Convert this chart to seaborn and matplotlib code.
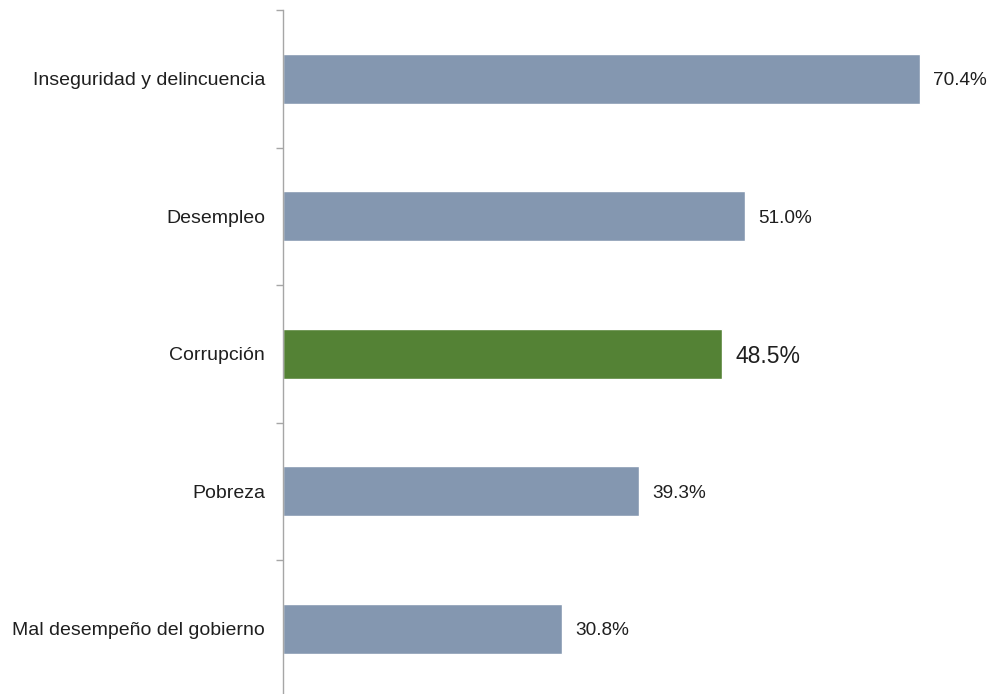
import matplotlib
matplotlib.use("Agg")
import matplotlib.pyplot as plt
import seaborn as sns
import pandas as pd

categorias = ["Inseguridad y delincuencia", "Desempleo", "Corrupción", "Pobreza",
              "Mal desempeño del gobierno"]
porcentajes = [70.4, 51.0, 48.5, 39.3, 30.8]
etiquetas = ["70.4%", "51.0%", "48.5%", "39.3%", "30.8%"]
destacado = "Corrupción"

AZUL = "#8497B0"
VERDE = "#548235"
TEXTO = "#1F1F1F"

sns.set_theme(style="white")
plt.rcParams["font.family"] = ["Liberation Sans", "DejaVu Sans"]

df = pd.DataFrame({"categoria": categorias, "valor": porcentajes})
colores = {c: (VERDE if c == destacado else AZUL) for c in categorias}

fig = plt.figure(figsize=(9.92, 6.94), dpi=100)
ax = fig.add_axes([283 / 992, 1 - 697.5 / 694, (988 - 283) / 992, 687.5 / 694])

sns.barplot(data=df, x="valor", y="categoria", hue="categoria", palette=colores,
            order=categorias, width=0.364, legend=False, ax=ax, saturation=1)

ax.set_xlim(0, 77.9)
ax.set_ylim(len(categorias) - 0.5, -0.5)
ax.set_xlabel("")
ax.set_ylabel("")
ax.set_xticks([])

# ticks sit on the category boundaries
ax.set_yticks([i - 0.5 for i in range(len(categorias) + 1)], minor=False)
ax.set_yticklabels([])
ax.tick_params(axis="y", which="major", direction="out", length=5, width=1,
               color="#A6A6A6", left=True)
for i, c in enumerate(categorias):
    ax.annotate(c, xy=(0, i), xytext=(-13, 0), textcoords="offset points",
                ha="right", va="center_baseline", fontsize=14, color=TEXTO)

for sp in ["top", "right", "bottom"]:
    ax.spines[sp].set_visible(False)
ax.spines["left"].set_color("#A6A6A6")
ax.spines["left"].set_linewidth(1)

for i, (v, lab, c) in enumerate(zip(porcentajes, etiquetas, categorias)):
    size = 16.5 if c == destacado else 13.7
    ax.annotate(lab, xy=(v, i), xytext=(9.5, 0), textcoords="offset points",
                ha="left", va="center_baseline", fontsize=size, color=TEXTO)

fig.savefig("out.png", dpi=100)
